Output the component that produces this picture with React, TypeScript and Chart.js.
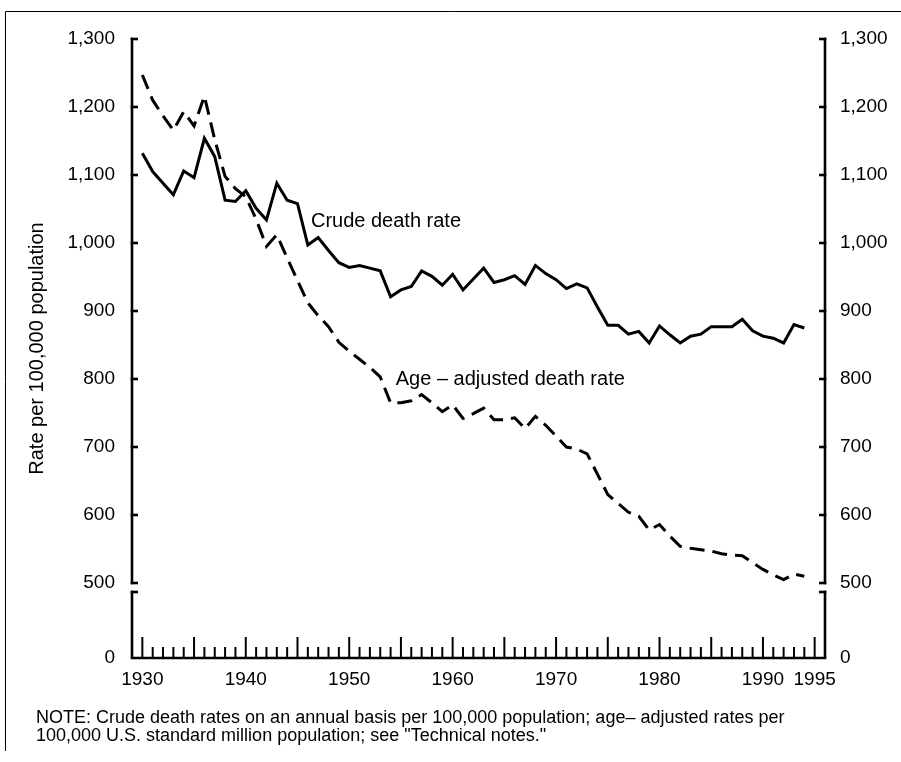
import React, { useEffect, useRef } from "react";
import { Chart, registerables } from "chart.js";

Chart.register(...registerables);

// ---------- data ----------
const years = [
  1930, 1931, 1932, 1933, 1934, 1935, 1936, 1937, 1938, 1939,
  1940, 1941, 1942, 1943, 1944, 1945, 1946, 1947, 1948, 1949,
  1950, 1951, 1952, 1953, 1954, 1955, 1956, 1957, 1958, 1959,
  1960, 1961, 1962, 1963, 1964, 1965, 1966, 1967, 1968, 1969,
  1970, 1971, 1972, 1973, 1974, 1975, 1976, 1977, 1978, 1979,
  1980, 1981, 1982, 1983, 1984, 1985, 1986, 1987, 1988, 1989,
  1990, 1991, 1992, 1993, 1994,
];

const crudeDeathRate = [
  1132, 1105, 1088, 1071, 1106, 1096, 1154, 1127, 1063, 1061,
  1077, 1051, 1034, 1088, 1063, 1058, 997, 1008, 989, 971,
  964, 967, 963, 959, 921, 931, 936, 959, 951, 938,
  954, 931, 947, 963, 942, 946, 952, 939, 967, 955,
  946, 933, 940, 934, 906, 879, 879, 866, 870, 853,
  878, 865, 853, 863, 866, 877, 877, 877, 888, 871,
  863, 860, 853, 880, 875,
];

const ageAdjustedDeathRate = [
  1247, 1210, 1187, 1166, 1193, 1172, 1216, 1152, 1098, 1080,
  1068, 1035, 995, 1012, 978, 945, 912, 893, 877, 854,
  841, 829, 817, 803, 765, 765, 768, 777, 765, 752,
  762, 742, 749, 757, 740, 740, 743, 727, 745, 732,
  716, 700, 697, 690, 660, 630, 617, 604, 598, 578,
  586, 569, 554, 551, 549, 547, 543, 541, 540, 530,
  520, 512, 505, 513, 510,
];

const xTickLabels = [1930, 1940, 1950, 1960, 1970, 1980, 1990, 1995];
const yTickValues = [500, 600, 700, 800, 900, 1000, 1100, 1200, 1300];
const yLowTickValues = [0];

const yAxisTitle = "Rate per 100,000 population";
const crudeLabel = "Crude death rate";
const ageLabel = "Age \u2013 adjusted death rate";
const noteLines = [
  "NOTE: Crude death rates on an annual basis per 100,000 population; age\u2013 adjusted rates per",
  "100,000 U.S. standard million population; see \"Technical notes.\"",
];

// ---------- styles ----------
const FONT = '"Liberation Sans", Arial, Helvetica, sans-serif';
const W = 901;
const H = 762;

const decorPlugin = {
  id: "decor",
  beforeDraw(chart: any) {
    const ctx = chart.ctx;
    ctx.save();
    ctx.fillStyle = "#fff";
    ctx.fillRect(0, 0, chart.width, chart.height);
    ctx.restore();
  },
  afterDraw(chart: any) {
    const ctx = chart.ctx;
    const { left, right, bottom } = chart.chartArea;
    const xs = chart.scales.x;
    const ys = chart.scales.y;
    const line = (x1: number, y1: number, x2: number, y2: number) => {
      ctx.beginPath();
      ctx.moveTo(x1, y1);
      ctx.lineTo(x2, y2);
      ctx.stroke();
    };
    ctx.save();
    ctx.strokeStyle = "#000";
    ctx.lineCap = "butt";

    // frame
    ctx.lineWidth = 1;
    line(5.5, 11.5, W, 11.5);
    line(5.5, 11.5, 5.5, 751);

    // axes
    ctx.lineWidth = 2.6;
    const yTop = ys.getPixelForValue(1300);
    const y500 = ys.getPixelForValue(500);
    const brk = y500 + 9;
    const tk = 6;
    line(left, yTop - 1.3, left, y500 + 1.3);
    line(right, yTop - 1.3, right, y500 + 1.3);
    line(left, brk - 1.3, left, bottom);
    line(right, brk - 1.3, right, bottom);
    line(left - 1.3, brk, left + tk, brk);
    line(right + 1.3, brk, right - tk, brk);
    yTickValues.forEach((v) => {
      const p = ys.getPixelForValue(v);
      line(left - 1.3, p, left + tk, p);
      line(right + 1.3, p, right - tk, p);
    });
    line(left - 1.3, bottom, right + 1.3, bottom);

    // x ticks (yearly minor, 5-year major)
    ctx.lineWidth = 2;
    for (let yr = 1930; yr <= 1995; yr++) {
      const p = xs.getPixelForValue(yr);
      const h = yr % 5 === 0 ? 21 : 11;
      line(p, bottom, p, bottom - h);
    }

    // texts
    ctx.fillStyle = "#000";
    ctx.font = `20px ${FONT}`;
    ctx.textAlign = "left";
    ctx.textBaseline = "alphabetic";
    ctx.fillText(crudeLabel, xs.getPixelForValue(1946.3), ys.getPixelForValue(1023));
    ctx.fillText(ageLabel, xs.getPixelForValue(1954.5), ys.getPixelForValue(791));

    // y axis title
    ctx.save();
    ctx.translate(37, (chart.chartArea.top + bottom) / 2);
    ctx.rotate(-Math.PI / 2);
    ctx.textAlign = "center";
    ctx.textBaseline = "middle";
    ctx.fillText(yAxisTitle, 0, 0);
    ctx.restore();

    // note
    ctx.font = `18px ${FONT}`;
    ctx.textAlign = "left";
    ctx.fillText(noteLines[0], 36, 723);
    ctx.fillText(noteLines[1], 36, 741);

    ctx.restore();
  },
};

const fmt = (v: number) => v.toLocaleString("en-US");

export default function App() {
  const ref = useRef<HTMLCanvasElement | null>(null);

  useEffect(() => {
    document.body.style.margin = "0";
    if (!ref.current) return;

    const tickFont = { family: FONT, size: 19 };
    const vAxisBase = {
      type: "linear" as const,
      grid: { display: false, drawTicks: false },
      border: { display: false },
    };

    const chart = new Chart(ref.current, {
      type: "line",
      data: {
        datasets: [
          {
            label: crudeLabel,
            data: years.map((yr, i) => ({ x: yr, y: crudeDeathRate[i] })),
            borderColor: "#000",
            borderWidth: 3,
            borderJoinStyle: "miter",
            pointRadius: 0,
            tension: 0,
            fill: false,
            xAxisID: "x",
            yAxisID: "y",
          },
          {
            label: ageLabel,
            data: years.map((yr, i) => ({ x: yr, y: ageAdjustedDeathRate[i] })),
            borderColor: "#000",
            borderWidth: 3,
            borderDash: [15, 8],
            borderJoinStyle: "miter",
            pointRadius: 0,
            tension: 0,
            fill: false,
            xAxisID: "x",
            yAxisID: "y",
          },
        ],
      },
      options: {
        animation: false,
        responsive: false,
        devicePixelRatio: 1,
        layout: { padding: { top: 39, left: 0, right: 0, bottom: 64 } },
        plugins: {
          legend: { display: false },
          tooltip: { enabled: false },
          title: { display: false },
        },
        scales: {
          x: {
            type: "linear",
            position: "bottom",
            min: 1929,
            max: 1996,
            grid: { display: false, drawTicks: false },
            border: { display: false },
            afterBuildTicks: (s: any) => {
              s.ticks = xTickLabels.map((v) => ({ value: v }));
            },
            afterFit: (s: any) => {
              s.height = 40;
            },
            ticks: {
              autoSkip: false,
              maxRotation: 0,
              padding: 10,
              color: "#000",
              font: tickFont,
              callback: (v: any) => String(v),
            },
          },
          y: {
            ...vAxisBase,
            position: "left",
            stack: "L",
            stackWeight: 544,
            weight: 1,
            min: 500,
            max: 1300,
            afterBuildTicks: (s: any) => {
              s.ticks = yTickValues.map((v) => ({ value: v }));
            },
            afterFit: (s: any) => {
              s.width = 132;
            },
            ticks: {
              autoSkip: false,
              padding: 17,
              color: "#000",
              font: tickFont,
              callback: (v: any) => fmt(v),
            },
          },
          y0: {
            ...vAxisBase,
            position: "left",
            stack: "L",
            stackWeight: 75,
            weight: 0,
            min: 0,
            max: 100,
            afterBuildTicks: (s: any) => {
              s.ticks = yLowTickValues.map((v) => ({ value: v }));
            },
            afterFit: (s: any) => {
              s.width = 132;
            },
            ticks: {
              autoSkip: false,
              padding: 17,
              color: "#000",
              font: tickFont,
              callback: (v: any) => fmt(v),
            },
          },
          yR: {
            ...vAxisBase,
            position: "right",
            stack: "R",
            stackWeight: 544,
            weight: 0,
            min: 500,
            max: 1300,
            afterBuildTicks: (s: any) => {
              s.ticks = yTickValues.map((v) => ({ value: v }));
            },
            afterFit: (s: any) => {
              s.width = 76;
            },
            ticks: {
              autoSkip: false,
              padding: 15,
              color: "#000",
              font: tickFont,
              callback: (v: any) => fmt(v),
            },
          },
          yR0: {
            ...vAxisBase,
            position: "right",
            stack: "R",
            stackWeight: 75,
            weight: 1,
            min: 0,
            max: 100,
            afterBuildTicks: (s: any) => {
              s.ticks = yLowTickValues.map((v) => ({ value: v }));
            },
            afterFit: (s: any) => {
              s.width = 76;
            },
            ticks: {
              autoSkip: false,
              padding: 15,
              color: "#000",
              font: tickFont,
              callback: (v: any) => fmt(v),
            },
          },
        },
      } as any,
      plugins: [decorPlugin],
    });

    return () => chart.destroy();
  }, []);

  return (
    <div style={{ width: W, height: H, overflow: "hidden" }}>
      <canvas ref={ref} width={W} height={H} style={{ display: "block" }} />
    </div>
  );
}
